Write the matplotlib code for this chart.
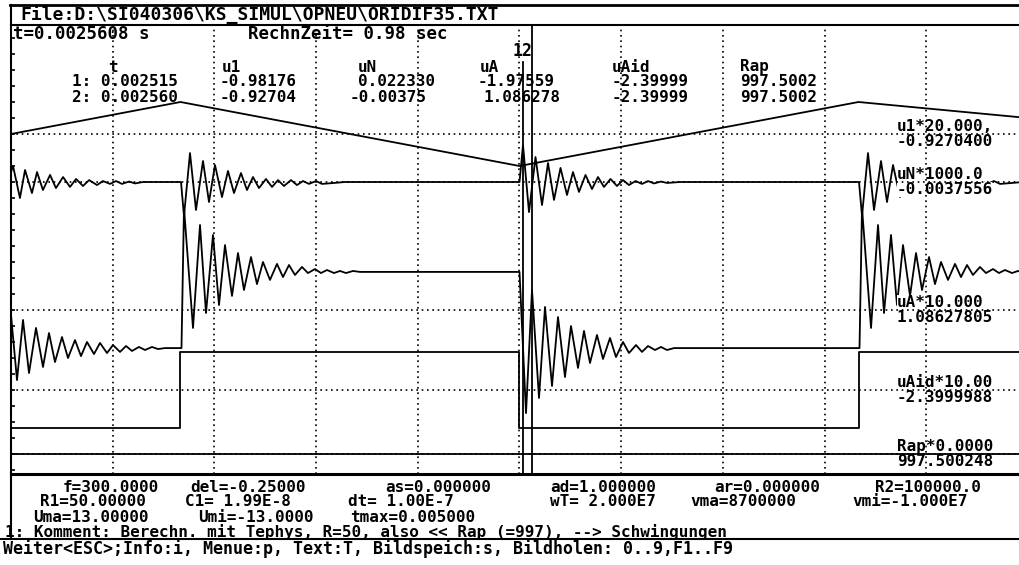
import matplotlib
matplotlib.use("Agg")
import matplotlib.pyplot as plt
from matplotlib.lines import Line2D
import numpy as np

# ---------------- data read from the screen ----------------
# time in ms, full record 0 .. 5 ms
switch_ms = [0.8333, 2.5, 4.1667]          # edges of the 300 Hz drive
switch_kind = ["rise", "fall", "rise"]

# u1 (V): triangle drive
u1_t = [0.0, 0.8333, 2.5, 4.1667, 5.0]
u1_v = [0.0, 1.0, -1.0, 1.0, 0.5]

# uAid (V): ideal output
uAid_t = [0.0, 0.8333, 2.5, 4.1667, 5.0]
uAid_v = [-2.4, 2.4, -2.4, 2.4, 2.4]

# Rap
Rap_t = [0.0, 5.0]
Rap_v = [997.5, 997.5]

# uN (mV): start-up ringing
uN_init_t = [0.0, 0.010, 0.044, 0.069, 0.103, 0.128, 0.157, 0.192, 0.221, 0.256, 0.290,
             0.320, 0.354, 0.384, 0.423, 0.452, 0.487, 0.516, 0.546, 0.580, 0.610, 0.649]
uN_init_v = [6.2, 10.0, -10.0, 7.5, -6.9, 6.2, -5.0, 4.4, -3.8, 3.1, -3.1,
             1.9, -2.5, 1.2, -1.9, 0.6, -1.2, 0.6, -1.2, 0.3, -0.9, 0.0]

# uA (V): start-up ringing
uA_init_t = [0.0, 0.0295, 0.0590, 0.0885, 0.1229, 0.1573, 0.1868, 0.2163, 0.2507, 0.2802,
             0.3146, 0.3441, 0.3736, 0.4081, 0.4376, 0.4720, 0.5015, 0.5359, 0.5654, 0.5949,
             0.6293, 0.6588, 0.6932, 0.7227, 0.7571]
uA_init_v = [-0.31, -4.38, -0.62, -3.94, -1.12, -3.56, -1.44, -3.25, -1.69, -3.0,
             -1.88, -2.88, -2.0, -2.75, -2.06, -2.69, -2.19, -2.62, -2.25, -2.56,
             -2.31, -2.5, -2.31, -2.44, -2.38]

# ringing after a rising edge (ms after the edge)
uN_rise_dt = [0.0025, 0.0172, 0.0467, 0.0762, 0.1106, 0.1401, 0.1696, 0.2040, 0.2335, 0.2630,
              0.2974, 0.3269, 0.3564, 0.3859, 0.4204, 0.4499, 0.4793, 0.5088, 0.5433, 0.5728,
              0.6023, 0.6318, 0.6662, 0.6957, 0.7547, 0.8087]
uN_rise_v = [0.0, -21.2, 18.1, -17.5, 13.1, -12.5, 10.6, -9.4, 6.9, -6.9,
             5.6, -5.0, 3.1, -3.8, 1.9, -3.1, 1.2, -2.5, 1.2, -1.9,
             0.6, -1.2, 0.6, -1.2, -0.6, 0.0]
uA_rise_dt = [0.0049, 0.0172, 0.0615, 0.0959, 0.1254, 0.1598, 0.1893, 0.2188, 0.2532, 0.2827,
              0.3122, 0.3466, 0.3761, 0.4056, 0.4400, 0.4744, 0.5039, 0.5334, 0.5629, 0.5973,
              0.6268, 0.6613, 0.6907, 0.7202, 0.7547, 0.7842, 0.8137, 0.8481, 0.8825]
uA_rise_v = [-2.38, 6.38, -1.12, 5.31, -0.19, 4.69, 0.31, 4.06, 0.88, 3.56,
             1.25, 3.31, 1.62, 3.0, 1.88, 2.88, 2.06, 2.81, 2.19, 2.69,
             2.31, 2.56, 2.31, 2.5, 2.31, 2.44, 2.31, 2.44, 2.38]

# ringing after a falling edge (ms after the edge)
uN_fall_dt = [0.0, 0.0172, 0.0467, 0.0787, 0.1106, 0.1401, 0.1696, 0.2016, 0.2335, 0.2630,
              0.2925, 0.3245, 0.3564, 0.3859, 0.4154, 0.4474, 0.4793, 0.5088, 0.5383, 0.5703,
              0.6023, 0.6318, 0.6613, 0.6957, 0.7252, 0.7891]
uN_fall_v = [0.0, 23.1, -18.8, 15.6, -14.4, 11.9, -11.2, 8.8, -8.1, 6.2,
             -6.2, 4.4, -4.4, 3.1, -3.1, 1.9, -2.5, 1.2, -1.9, 0.6,
             -1.2, 0.6, -0.9, 0.3, -0.6, 0.0]
uA_fall_dt = [0.0, 0.0320, 0.0615, 0.0959, 0.1254, 0.1598, 0.1893, 0.2237, 0.2532, 0.2876,
              0.3171, 0.3466, 0.3810, 0.4105, 0.4449, 0.4744, 0.5088, 0.5383, 0.5728, 0.6023,
              0.6318, 0.6662, 0.6957, 0.7252, 0.7596]
uA_fall_v = [2.38, -6.44, 1.25, -5.5, 0.19, -4.75, -0.44, -4.19, -1.0, -3.62,
             -1.31, -3.31, -1.56, -3.06, -1.75, -2.94, -2.0, -2.69, -2.19, -2.62,
             -2.25, -2.5, -2.31, -2.5, -2.38]

cursor_ms = [2.515, 2.560]

# screen texts
title = r"File:D:\SI040306\KS_SIMUL\OPNEU\ORIDIF35.TXT"
col_heads = ["t", "u1", "uN", "uA", "uAid", "Rap"]
row1 = ["1: 0.002515", "-0.98176", "0.022330", "-1.97559", "-2.39999", "997.5002"]
row2 = ["2: 0.002560", "-0.92704", "-0.00375", "1.086278", "-2.39999", "997.5002"]
chan_scale = ["u1*20.000,", "uN*1000.0", "uA*10.000", "uAid*10.00", "Rap*0.0000"]
chan_value = ["-0.9270400", "-0.0037556", "1.08627805", "-2.3999988", "997.500248"]
info1 = ["f=300.0000", "del=-0.25000", "as=0.000000", "ad=1.000000", "ar=0.000000", "R2=100000.0"]
info2 = ["R1=50.00000", "C1= 1.99E-8", "dt= 1.00E-7", "wT= 2.000E7", "vma=8700000", "vmi=-1.000E7"]
info3 = ["Uma=13.00000", "Umi=-13.0000", "tmax=0.005000"]
comment = "1: Komment: Berechn. mit Tephys, R=50, also << Rap (=997), --> Schwingungen"
status = "Weiter<ESC>;Info:i, Menue:p, Text:T, Bildspeich:s, Bildholen: 0..9,F1..F9"

# ---------------- build traces ----------------
def build(init_t, init_v, rise, fall):
    t = list(init_t)
    v = list(init_v)
    for ts, kind in zip(switch_ms, switch_kind):
        dt, dv = rise if kind == "rise" else fall
        t += [ts + d for d in dt]
        v += list(dv)
    return np.array(t), np.array(v)

uN_t, uN_v = build(uN_init_t, uN_init_v, (uN_rise_dt, uN_rise_v), (uN_fall_dt, uN_fall_v))
uA_t, uA_v = build(uA_init_t, uA_init_v, (uA_rise_dt, uA_rise_v), (uA_fall_dt, uA_fall_v))

# ---------------- layout ----------------
W, H = 1020, 565
fig = plt.figure(figsize=(W / 100, H / 100), dpi=100)
fig.patch.set_facecolor("white")

def fx(x):
    return x / W

def fy(y):
    return 1 - y / H

ax = fig.add_axes([fx(11), fy(474), 1017 / W, (474 - 25) / H])
ax.set_xlim(0, 5.0)
ax.set_ylim(-2.5, 278.125)
ax.set_facecolor("white")

# channel zero lines (screen units) and display gains
z_u1, g_u1 = 210, 20.0
z_uN, g_uN = 180, 1.0      # uN in mV, *1000
z_uA, g_uA = 100, 10.0
z_uAid, g_uAid = 50, 10.0
z_Rap, g_Rap = 10, 0.0

Z_TRACE, Z_LABEL, Z_TOP = 2.0, 2.5, 2.8

dot = (0, (1, 2.2))
for k in range(1, 10):
    ax.axvline(0.5 * k, color="black", lw=1.2, ls=dot, zorder=Z_TOP)
for z in [z_u1, z_uN, z_uA, z_uAid, z_Rap]:
    ax.axhline(z, color="black", lw=1.2, ls=dot, zorder=Z_TOP)

lw = 1.3
ax.plot(u1_t, z_u1 + g_u1 * np.array(u1_v), color="black", lw=lw, zorder=Z_TOP)
ax.plot(uN_t, z_uN + g_uN * uN_v, color="black", lw=lw, zorder=Z_TRACE)
ax.plot(uA_t, z_uA + g_uA * uA_v, color="black", lw=lw, zorder=Z_TRACE)
ax.step(uAid_t, z_uAid + g_uAid * np.array(uAid_v), where="post", color="black", lw=lw, zorder=Z_TOP)
ax.plot(Rap_t, z_Rap + g_Rap * np.array(Rap_v), color="black", lw=lw, zorder=Z_TOP)

# cursors
ax.plot([cursor_ms[0], cursor_ms[0]], [-2.5, 255], color="black", lw=1.3, zorder=Z_TOP)
ax.axvline(cursor_ms[1], color="black", lw=1.3, zorder=Z_TOP)

ax.set_xticks([])
ax.set_yticks(np.arange(0, 271, 10))
ax.tick_params(axis="y", direction="in", length=3.2, width=1.2, labelleft=False)
ax.spines["right"].set_visible(False)
ax.spines["left"].set_linewidth(1.5)
ax.spines["top"].set_linewidth(1.5)
ax.spines["bottom"].set_linewidth(2.2)

# frame lines outside the plot
def hline(y, x0=10, x1=W, lw_=1.5):
    fig.add_artist(Line2D([fx(x0), fx(x1)], [fy(y), fy(y)], color="black", lw=lw_))

def vline(x, y0, y1, lw_=1.5):
    fig.add_artist(Line2D([fx(x), fx(x)], [fy(y0), fy(y1)], color="black", lw=lw_))

hline(5, lw_=2.0)
vline(11, 5, 25)
vline(11, 474, 539)
hline(539, 0, W, 1.5)

# ---------------- texts ----------------
FONT = dict(family="DejaVu Sans Mono", weight="bold", color="black")
FS = 11.5

def txt(x, y, s, size=FS, **kw):
    fig.text(fx(x), fy(y), s, ha="left", va="center", fontsize=size, **FONT, **kw)

txt(20, 15, title, size=13)
txt(13, 34, "t=0.0025608 s", size=12.5)
txt(248, 34, "RechnZeit= 0.98 sec", size=12.5)

for s, x in zip(col_heads, [108, 222, 358, 480, 612, 740]):
    txt(x, 67, s)
for s, x in zip(row1, [72, 220, 358, 478, 612, 740]):
    txt(x, 82, s)
for s, x in zip(row2, [72, 220, 350, 484, 612, 740]):
    txt(x, 97, s)
txt(513, 51, "12", size=12)

# channel labels: white box hides the ringing traces, grid stays on top
zero_px = [134, 182, 310, 390, 454]
for s, v, zp in zip(chan_scale, chan_value, zero_px):
    for text, yy in [(s, zp - 7.5), (v, zp + 7.5)]:
        ax.text(fx(897), fy(yy), text, transform=fig.transFigure, ha="left", va="center",
                fontsize=FS, zorder=Z_LABEL, clip_on=False,
                bbox=dict(facecolor="white", edgecolor="none", pad=0.0), **FONT)

for s, x in zip(info1, [63, 190, 385, 550, 714, 875]):
    txt(x, 487, s)
for s, x in zip(info2, [40, 185, 348, 550, 690, 852]):
    txt(x, 502, s)
for s, x in zip(info3, [33, 198, 350]):
    txt(x, 517, s)
txt(5, 532, comment)
txt(3, 549, status, size=12)

fig.savefig("out.png", dpi=100, facecolor="white")
